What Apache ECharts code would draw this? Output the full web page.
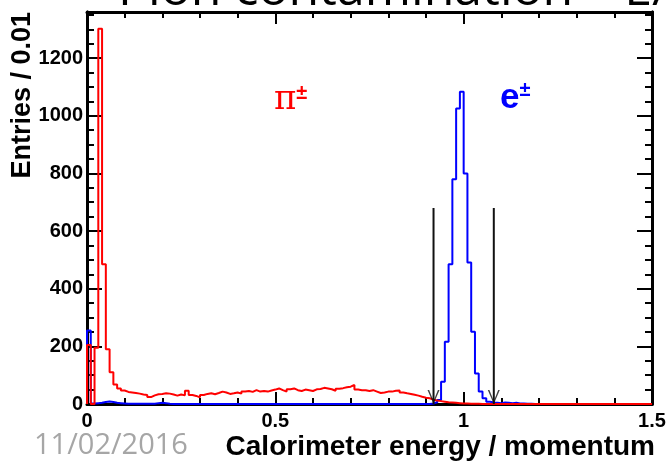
<!DOCTYPE html>
<html>
<head>
<meta charset="utf-8">
<script src="https://cdn.jsdelivr.net/npm/echarts@6/dist/echarts.min.js"></script>
<style>
  html, body { margin: 0; padding: 0; background: #fff; }
  #chart { width: 669px; height: 467px; }
</style>
</head>
<body>
<div id="chart"></div>
<script>
// histogram binning: 150 bins of 0.01 from 0 to 1.5
const binWidth = 0.01
const xMin = 0
const xMax = 1.5
const yMax = 1360

// pi+- entries per bin
const piCounts = [
  205, 0, 195, 1302, 485, 190, 110, 68, 54, 47,
  42, 40, 38, 36, 33, 31, 24, 30, 34, 35,
  37, 36, 33, 29, 33, 30, 46, 31, 28, 23,
  31, 35, 37, 34, 38, 43, 40, 35, 37, 40,
  36, 43, 45, 42, 48, 43, 45, 43, 47, 50,
  54, 48, 43, 51, 54, 48, 45, 50, 48, 45,
  51, 52, 56, 54, 51, 46, 53, 55, 58, 60,
  66, 50, 48, 48, 45, 48, 43, 38, 40, 43,
  43, 46, 47, 40, 37, 35, 32, 29, 25, 22,
  20, 15, 12, 10, 8, 6, 5, 4, 3, 2,
  2, 1, 1, 1, 0, 0, 0, 0, 0, 0,
  0, 0, 0, 0, 0, 0, 0, 0, 0, 0,
  0, 0, 0, 0, 0, 0, 0, 0, 0, 0,
  0, 0, 0, 0, 0, 0, 0, 0, 0, 0,
  0, 0, 0, 0, 0, 0, 0, 0, 0, 0
]

// e+- entries per bin
const eCounts = [
  255, 2, 3, 4, 7, 9, 7, 4, 3, 2,
  1, 1, 1, 1, 1, 1, 1, 1, 3, 4,
  3, 1, 0, 0, 0, 0, 0, 0, 0, 0,
  0, 0, 0, 0, 0, 0, 0, 0, 0, 0,
  0, 0, 0, 0, 0, 0, 0, 0, 0, 0,
  0, 0, 0, 0, 0, 0, 0, 0, 0, 0,
  0, 0, 0, 0, 0, 0, 0, 0, 0, 0,
  0, 0, 0, 0, 0, 0, 0, 0, 0, 0,
  0, 0, 0, 0, 0, 0, 0, 0, 0, 0,
  0, 2, 6, 14, 77, 216, 485, 780, 1025, 1083,
  800, 491, 251, 106, 43, 20, 8, 5, 4, 3,
  5, 4, 3, 4, 2, 2, 1, 1, 0, 0,
  0, 0, 0, 0, 0, 0, 0, 0, 0, 0,
  0, 0, 0, 0, 0, 0, 0, 0, 0, 0,
  0, 0, 0, 0, 0, 0, 0, 0, 0, 0
]

// selection cut arrows
const cutValues = [0.92, 1.08]
const arrowTop = 680

const font = 'Liberation Sans, Arial, sans-serif'

function histPoints(counts) {
  const pts = [[xMin, 0]]
  counts.forEach((c, i) => pts.push([+(xMin + i * binWidth).toFixed(2), c]))
  pts.push([xMin + counts.length * binWidth, counts[counts.length - 1]])
  return pts
}

function xAx(position, showLabel) {
  return {
    type: 'value', position, min: xMin, max: xMax, interval: 0.5,
    axisLine: { show: true, onZero: false, lineStyle: { color: '#000', width: 3 } },
    axisTick: { show: true, inside: true, length: 12, lineStyle: { color: '#000', width: 2 } },
    minorTick: { show: true, splitNumber: 5, length: 6, lineStyle: { color: '#000', width: 2 } },
    axisLabel: { show: showLabel, margin: 7, fontFamily: font, fontWeight: 'bold', fontSize: 20, color: '#000' },
    splitLine: { show: false },
    minorSplitLine: { show: false }
  }
}

function yAx(position, interval, tickLen, showLabel) {
  return {
    type: 'value', position, min: 0, max: yMax, interval,
    axisLine: { show: true, onZero: false, lineStyle: { color: '#000', width: 3 } },
    axisTick: { show: true, inside: true, length: tickLen, lineStyle: { color: '#000', width: 2 } },
    axisLabel: {
      show: showLabel, margin: 4, fontFamily: font, fontWeight: 'bold', fontSize: 20, color: '#000',
      formatter: v => (v % 200 === 0 ? String(v) : '')
    },
    splitLine: { show: false }
  }
}

const chart = echarts.init(document.getElementById('chart'))

const arrowSeries = cutValues.map(c => ({
  type: 'line',
  data: [[c, arrowTop], [c, 0]],
  symbol: 'none',
  lineStyle: { color: '#111', width: 2 },
  z: 4,
  silent: true
}))

chart.setOption({
  animation: false,
  backgroundColor: '#fff',
  grid: { left: 87, right: 17, top: 12, bottom: 63 },
  xAxis: [xAx('bottom', true), xAx('top', false)],
  yAxis: [
    yAx('left', 200, 15, true),
    yAx('left', 50, 7, false),
    yAx('right', 200, 15, false),
    yAx('right', 50, 7, false)
  ],
  series: [
    {
      name: 'e', type: 'line', step: 'end', symbol: 'none',
      data: histPoints(eCounts),
      lineStyle: { color: '#0000ff', width: 2 }, z: 2
    },
    {
      name: 'pi', type: 'line', step: 'end', symbol: 'none',
      data: histPoints(piCounts),
      lineStyle: { color: '#ff0000', width: 2 }, z: 3
    },
    ...arrowSeries,
    {
      type: 'scatter',
      data: cutValues.map(c => [c, 0]),
      symbol: 'path://M0,0 L1.6,0 L6,11 L10.4,0 L12,0 L6,14 Z',
      symbolSize: [12, 14],
      symbolOffset: [0, -7],
      itemStyle: { color: '#111' },
      z: 5,
      silent: true
    }
  ],
  graphic: [
    {
      type: 'text', x: 118, y: -9, silent: true,
      style: {
        text: 'Pion contamination – E/p', font: '50px "Open Sans", sans-serif', fill: '#000',
        textAlign: 'left', textVerticalAlign: 'middle'
      }
    },
    {
      type: 'text', x: 23, y: 12, rotation: Math.PI / 2, silent: true,
      style: {
        text: 'Entries / 0.01', font: 'bold 27px ' + font, fill: '#000',
        textAlign: 'right', textVerticalAlign: 'middle'
      }
    },
    {
      type: 'text', x: 655, y: 447, silent: true,
      style: {
        text: 'Calorimeter energy / momentum', font: 'bold 28px ' + font, fill: '#000',
        textAlign: 'right', textVerticalAlign: 'middle'
      }
    },
    {
      type: 'text', x: 34, y: 446, silent: true,
      style: {
        text: '11/02/2016', font: '29px "Open Sans", sans-serif', fill: '#a6a6a6',
        textAlign: 'left', textVerticalAlign: 'middle'
      }
    },
    {
      type: 'text', x: 274, y: 100, silent: true,
      style: {
        text: '{p|π}{s|±}', textAlign: 'left', textVerticalAlign: 'middle',
        rich: {
          p: { fontFamily: 'DejaVu Serif, serif', fontSize: 34, fill: '#ff0000', color: '#ff0000' },
          s: { fontFamily: font, fontWeight: 'bold', fontSize: 20, fill: '#ff0000', color: '#ff0000', verticalAlign: 'top' }
        }
      }
    },
    {
      type: 'text', x: 500, y: 98, silent: true,
      style: {
        text: '{e|e}{s|±}', textAlign: 'left', textVerticalAlign: 'middle',
        rich: {
          e: { fontFamily: font, fontWeight: 'bold', fontSize: 35, fill: '#0000ff', color: '#0000ff' },
          s: { fontFamily: font, fontWeight: 'bold', fontSize: 20, fill: '#0000ff', color: '#0000ff', verticalAlign: 'top' }
        }
      }
    }
  ]
})
</script>
</body>
</html>
